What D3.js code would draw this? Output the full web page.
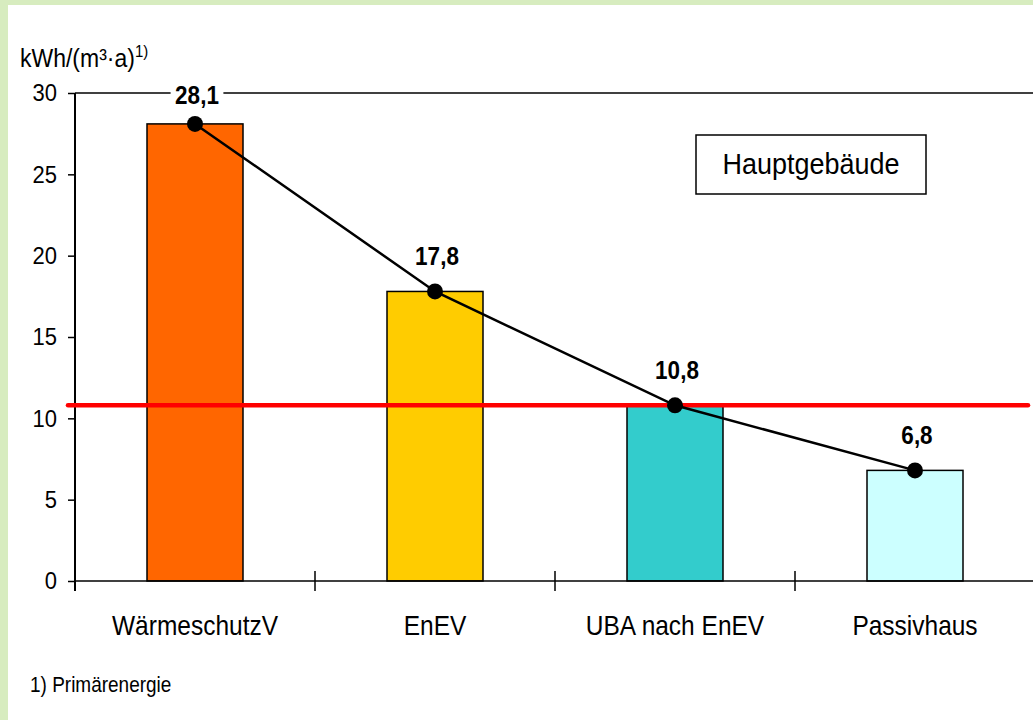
<!DOCTYPE html>
<html>
<head>
<meta charset="utf-8">
<script src="https://cdn.jsdelivr.net/npm/d3@7"></script>
<style>
  html, body { margin: 0; padding: 0; background: #d7ecbf; }
  #central-container { width: 1033px; height: 720px; overflow: hidden; }
  text { font-family: "Liberation Sans", Arial, sans-serif; fill: #000; }
</style>
</head>
<body>
<div id="central-container"></div>
<script>
// data
const categories = ["WärmeschutzV", "EnEV", "UBA nach EnEV", "Passivhaus"]
const values = [28.1, 17.8, 10.8, 6.8]
const valueLabels = ["28,1", "17,8", "10,8", "6,8"]
const yTicks = [0, 5, 10, 15, 20, 25, 30]
const referenceValue = 10.8

const width = 1033
const height = 720
const margin = { left: 75, right: -2, top: 93, bottom: 139 }
const stretch = 1.12  // the original text is a little taller than wide

var svg = d3.select("#central-container")
  .append("svg")
  .attr("width", width)
  .attr("height", height)

// place a text at (px, py) with a vertical stretch
function placeText(sel, px, py) {
  return sel.attr("transform", "translate(" + px + "," + py + ") scale(1," + stretch + ")")
}

// white panel on the green page
svg.append("rect")
  .attr("x", 8).attr("y", 5)
  .attr("width", width - 8).attr("height", height - 5)
  .attr("fill", "#fff")

var x = d3.scaleBand()
  .domain(categories)
  .range([margin.left, width - margin.right])
  .paddingInner(0.6)
  .paddingOuter(0.3)

var y = d3.scaleLinear()
  .domain([0, 30])
  .range([height - margin.bottom, margin.top])

var color = d3.scaleOrdinal()
  .domain(categories)
  .range(["#ff6600", "#ffcc00", "#33cccc", "#ccffff"])

var data = categories.map(function(c, i) {
  return { cat: c, value: values[i], label: valueLabels[i] }
})

// top border of plot area
svg.append("line")
  .attr("x1", margin.left).attr("x2", width)
  .attr("y1", y(30)).attr("y2", y(30))
  .attr("stroke", "#000").attr("stroke-width", 1.5)

// bars
svg.append("g")
  .selectAll("rect")
  .data(data)
  .enter().append("rect")
    .attr("x", function(d) { return x(d.cat) })
    .attr("y", function(d) { return y(d.value) })
    .attr("width", x.bandwidth())
    .attr("height", function(d) { return y(0) - y(d.value) })
    .attr("fill", function(d) { return color(d.cat) })
    .attr("stroke", "#000")
    .attr("stroke-width", 1.5)

// y axis
var yAxis = svg.append("g")
  .attr("transform", "translate(" + margin.left + ",0)")
  .call(d3.axisLeft(y).tickValues(yTicks).tickSize(7).tickPadding(11))
yAxis.select(".domain").remove()
yAxis.selectAll("line").attr("stroke", "#000").attr("stroke-width", 1.5)
yAxis.selectAll("text")
  .attr("font-family", null)
  .style("font-size", "22px")
  .attr("transform", "scale(1," + stretch + ")")
svg.append("line")
  .attr("x1", margin.left).attr("x2", margin.left)
  .attr("y1", y(30)).attr("y2", y(0) + 10)
  .attr("stroke", "#000").attr("stroke-width", 2)

// x axis line + category separators
svg.append("line")
  .attr("x1", margin.left).attr("x2", width)
  .attr("y1", y(0)).attr("y2", y(0))
  .attr("stroke", "#000").attr("stroke-width", 1.5)

var half = (x.step() - x.bandwidth()) / 2
svg.append("g")
  .selectAll("line")
  .data(categories.slice(1))
  .enter().append("line")
    .attr("x1", function(d) { return x(d) - half })
    .attr("x2", function(d) { return x(d) - half })
    .attr("y1", y(0) - 10)
    .attr("y2", y(0) + 10)
    .attr("stroke", "#000").attr("stroke-width", 1.5)

var xAxis = svg.append("g")
  .attr("transform", "translate(0," + y(0) + ")")
  .call(d3.axisBottom(x).tickSize(0).tickPadding(0))
xAxis.select(".domain").remove()
xAxis.selectAll("text")
  .attr("dy", null)
  .attr("y", null)
  .attr("font-family", null)
  .style("font-size", "24.5px")
  .attr("transform", "translate(0,54) scale(1," + stretch + ")")

// red reference line
svg.append("line")
  .attr("x1", 68).attr("x2", 1028)
  .attr("y1", y(referenceValue)).attr("y2", y(referenceValue))
  .attr("stroke", "#ff0000")
  .attr("stroke-width", 4.5)
  .attr("stroke-linecap", "round")

// line with markers
var line = d3.line()
  .x(function(d) { return x(d.cat) + x.bandwidth() / 2 })
  .y(function(d) { return y(d.value) })

svg.append("path")
  .datum(data)
  .attr("d", line)
  .attr("fill", "none")
  .attr("stroke", "#000")
  .attr("stroke-width", 2.5)

svg.append("g")
  .selectAll("circle")
  .data(data)
  .enter().append("circle")
    .attr("cx", function(d) { return x(d.cat) + x.bandwidth() / 2 })
    .attr("cy", function(d) { return y(d.value) })
    .attr("r", 8)
    .attr("fill", "#000")

// value labels (top one sits on the border, with white behind)
var labels = svg.append("g")
  .selectAll("g")
  .data(data)
  .enter().append("g")
    .attr("transform", function(d) {
      var ly = Math.max(y(d.value) - 26, y(30) + 11)
      return "translate(" + (x(d.cat) + x.bandwidth() / 2 + 2) + "," + ly + ")"
    })

labels.append("rect")
  .attr("x", function(d) { return -d.label.length * 6.6 })
  .attr("y", -19)
  .attr("width", function(d) { return d.label.length * 13.2 })
  .attr("height", 23)
  .attr("fill", function(d) { return y(d.value) - 26 < y(30) + 11 ? "#fff" : "none" })

labels.append("text")
  .attr("text-anchor", "middle")
  .attr("transform", "scale(1," + stretch + ")")
  .style("font-size", "22.5px")
  .style("font-weight", "bold")
  .text(function(d) { return d.label })

// Hauptgebäude box
svg.append("rect")
  .attr("x", 696).attr("y", 135)
  .attr("width", 230).attr("height", 59)
  .attr("fill", "#fff")
  .attr("stroke", "#000").attr("stroke-width", 1.5)
svg.append("text")
  .call(placeText, 811, 174)
  .attr("text-anchor", "middle")
  .style("font-size", "27px")
  .text("Hauptgebäude")

// y axis title
var title = svg.append("text")
  .call(placeText, 20, 67)
  .style("font-size", "23px")
title.append("tspan").text("kWh/(m³·a)")
title.append("tspan")
  .attr("dy", -9)
  .style("font-size", "15px")
  .text("1)")

// footnote
svg.append("text")
  .call(placeText, 30, 692)
  .style("font-size", "19px")
  .text("1) Primärenergie")
</script>
</body>
</html>
